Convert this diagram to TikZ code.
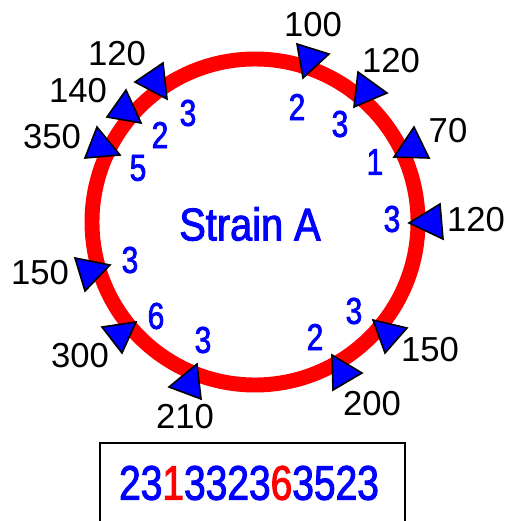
\documentclass[tikz,border=0pt]{standalone}
\usepackage{fontspec}
\setmainfont{Liberation Sans}
\newfontfamily\narrowfont[FakeStretch=0.8,FakeBold=2]{Liberation Sans}
\definecolor{pured}{RGB}{255,0,0}
\definecolor{pblue}{RGB}{0,0,255}
\tikzset{
  lbl/.style={inner sep=0pt, font=\fontsize{26}{26}\selectfont, text=black},
  cnt/.style={inner sep=0pt, font=\narrowfont\fontsize{28}{28}\selectfont, text=pblue},
  tri/.style={fill=pblue, draw=black, line width=1.2pt, line join=miter},
}
\begin{document}
\begin{tikzpicture}[x=0.75pt,y=-0.75pt]
\useasboundingbox (0,0) rectangle (510,521);
\clip (0,0) rectangle (510,521);
% ring
\draw[pured, line width=11.2pt] (255,222) circle (163);
% triangles
\filldraw[tri] (135,82) -- (163,63) -- (167,99) -- cycle;
\filldraw[tri] (126,90) -- (107,117) -- (141,123) -- cycle;
\filldraw[tri] (97,127) -- (85,158) -- (120,155) -- cycle;
\filldraw[tri] (297,44) -- (329,54) -- (303,78) -- cycle;
\filldraw[tri] (358,72) -- (387,93) -- (354,107) -- cycle;
\filldraw[tri] (414,127) -- (429,158) -- (394,157) -- cycle;
\filldraw[tri] (440,204) -- (409,223) -- (443,239) -- cycle;
\filldraw[tri] (75,258) -- (110,265) -- (85,291) -- cycle;
\filldraw[tri] (102,327) -- (136,322) -- (122,353) -- cycle;
\filldraw[tri] (197,364) -- (169,387) -- (201,399) -- cycle;
\filldraw[tri] (373,320) -- (407,328) -- (385,353) -- cycle;
\filldraw[tri] (332,355) -- (362,373) -- (333,390) -- cycle;
% outer labels
\node[lbl] (l1) at (117,54) {120};
\node[lbl] (l2) at (78,91) {140};
\node[lbl] (l3) at (52,137) {350};
\node[lbl] (l4) at (313,25) {100};
\node[lbl] (l5) at (391,61) {120};
\node[lbl] (l6) at (448,131) {70};
\node[lbl] (l7) at (476,220) {120};
\node[lbl] (l8) at (40,273) {150};
\node[lbl] (l9) at (80,356) {300};
\node[lbl] (l10) at (185,417) {210};
\node[lbl] (l11) at (430,350) {150};
\node[lbl] (l12) at (372,404) {200};
% inner counts
\node[cnt] (c1) at (188,113) {3};
\node[cnt] (c2) at (160,135) {2};
\node[cnt] (c3) at (138,168) {5};
\node[cnt] (c4) at (297,107) {2};
\node[cnt] (c5) at (340,124) {3};
\node[cnt] (c6) at (375,162) {1};
\node[cnt] (c7) at (392,219) {3};
\node[cnt] (c8) at (130,260) {3};
\node[cnt] (c9) at (156,316) {6};
\node[cnt] (c10) at (203,340) {3};
\node[cnt] (c11) at (354,311) {3};
\node[cnt] (c12) at (315,337) {2};
% title
\node[inner sep=0pt, font=\narrowfont\fontsize{34.5}{34.5}\selectfont, text=pblue] (title) at (250,224) {\scalebox{1.08}[1]{Strain A}};
% sequence box
\draw[black, line width=1.6pt] (100,443) rectangle (405,535);
\node[inner sep=0pt, font=\narrowfont\fontsize{36.5}{36.5}\selectfont, text=pblue] (seq) at (249,483) {23\textcolor{pured}{1}3323\textcolor{pured}{6}3523};
\end{tikzpicture}
\end{document}
